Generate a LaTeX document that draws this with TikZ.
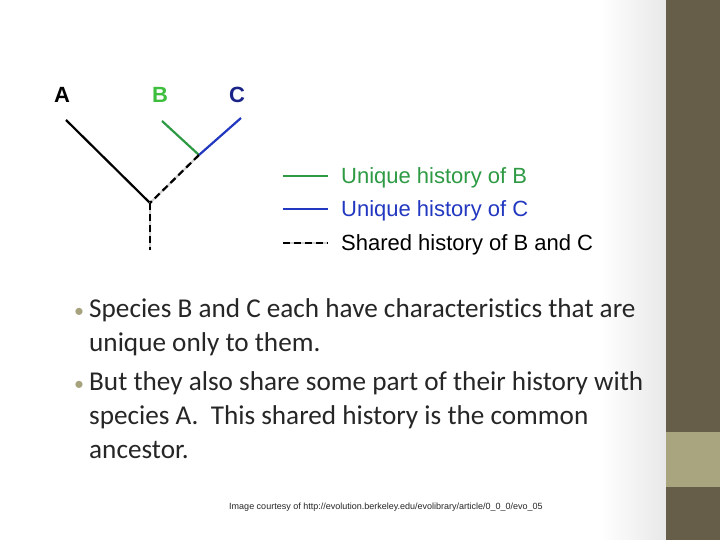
\documentclass[tikz,border=0pt]{standalone}
\usepackage{fontspec}
\setmainfont{Carlito}[RawFeature=-liga]
\newfontfamily\arialfont{Liberation Sans}
\usetikzlibrary{positioning}

\definecolor{barolive}{HTML}{665E48}
\definecolor{bandolive}{HTML}{A9A67F}
\definecolor{bulletolive}{HTML}{A6A27E}
\definecolor{bodytext}{HTML}{262626}
\definecolor{histgreen}{HTML}{2E9A44}
\definecolor{labgreen}{HTML}{3DBE3D}
\definecolor{histblue}{HTML}{2238C0}
\definecolor{labblue}{HTML}{1A2488}

\tikzset{
    taxon/.style={font=\arialfont\bfseries\fontsize{22}{24}\selectfont, inner sep=0pt},
    legendtext/.style={font=\arialfont\fontsize{22}{24}\selectfont, anchor=west, inner sep=0pt},
    branch/.style={line width=2.2pt},
    shared/.style={line width=2.2pt, dash pattern=on 7pt off 4pt},
    sharedbg/.style={line width=2pt, gray!35},
    bodyline/.style={font=\fontsize{27.2}{30}\selectfont, text=bodytext, anchor=base west, inner sep=0pt},
    bulletmark/.style={font=\fontsize{20}{24}\selectfont, text=bulletolive, anchor=base west, inner sep=0pt}
}

\begin{document}
\begin{tikzpicture}[x=1pt, y=-1pt]

    % Slide frame
    \useasboundingbox (0,0) rectangle (720,540);
    \fill[white] (0,0) rectangle (666,540);
    \shade[left color=white, right color=gray!18] (600,0) rectangle (666,540);
    \fill[barolive] (666,0) rectangle (720,540);
    \fill[bandolive] (666,432) rectangle (720,487);

    % Taxa labels
    \node[taxon] at (62,95) (A) {A};
    \node[taxon, text=labgreen] at (160,95) (B) {B};
    \node[taxon, text=labblue] at (237,95) (C) {C};

    % Tree points
    \coordinate (tipA) at (66,120);
    \coordinate (tipB) at (162,121);
    \coordinate (tipC) at (241,118);
    \coordinate (fork) at (199,155);
    \coordinate (root) at (150,203);
    \coordinate (stem) at (150,250);

    % Branches
    \draw[branch] (tipA) -- (root);
    \draw[branch, histgreen] (tipB) -- (fork);
    \draw[branch, histblue] (tipC) -- (fork);
    \draw[sharedbg] (fork) -- (root) -- (stem);
    \draw[shared] (fork) -- (root);
    \draw[shared] (root) -- (stem);

    % Legend
    \coordinate (keyB) at (283,176);
    \coordinate (keyC) at (283,209);
    \coordinate (keyS) at (283,243);
    \node[legendtext, text=histgreen] at (341,178) (legB) {Unique history of B};
    \node[legendtext, text=histblue] at (341,211) (legC) {Unique history of C};
    \node[legendtext] at (341,245) (legS) {Shared history of B and C};
    \draw[branch, histgreen] (keyB) -- (328,176);
    \draw[branch, histblue] (keyC) -- (328,209);
    \draw[sharedbg] (keyS) -- (328,243);
    \draw[shared] (keyS) -- (328,243);

    % Bullet points
    \node[bulletmark] at (74,317) (bul1) {\textbullet};
    \node[bodyline] at (89,317) (line1) {Species B and C each have characteristics that are};
    \node[bodyline] at (89,351) (line2) {unique only to them.};
    \node[bulletmark] at (74,390) (bul2) {\textbullet};
    \node[bodyline] at (89,390) (line3) {But they also share some part of their history with};
    \node[bodyline] at (89,424) (line4) {species A.\ \ This shared history is the common};
    \node[bodyline] at (89,458) (line5) {ancestor.};

    % Credit
    \node[font=\arialfont\fontsize{9}{10}\selectfont, text=bodytext, inner sep=0pt] at (386,507) (credit)
        {Image courtesy of http://evolution.berkeley.edu/evolibrary/article/0\_0\_0/evo\_05};
\end{tikzpicture}
\end{document}
